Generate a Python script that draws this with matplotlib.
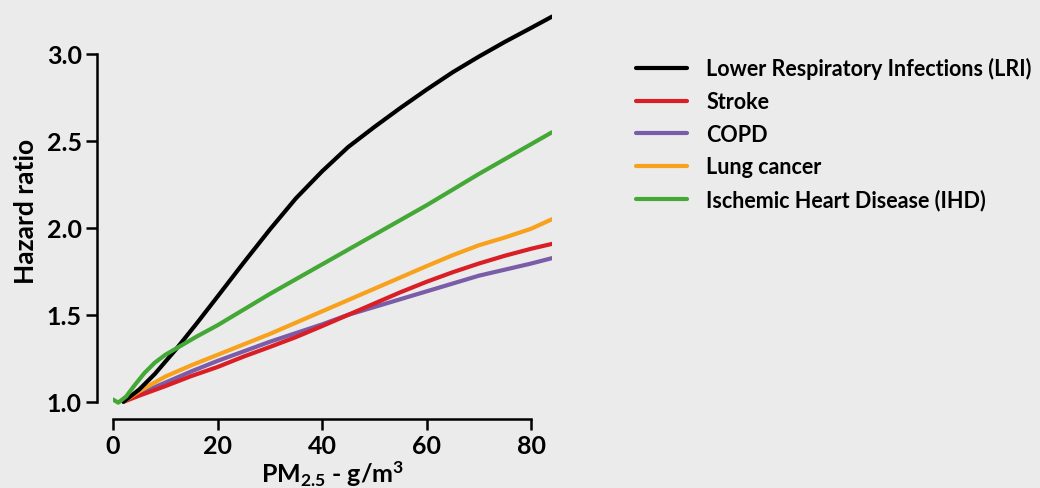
import matplotlib
matplotlib.use('Agg')
import matplotlib.pyplot as plt

# values (PM2.5 in g/m3 vs hazard ratio)
lri_x = [2, 5, 8, 12, 16, 20, 25, 30, 35, 40, 45, 50, 55, 60, 65, 70, 75, 80, 84]
lri_y = [1.0, 1.07, 1.16, 1.30, 1.45, 1.605, 1.80, 1.99, 2.17, 2.325, 2.465, 2.58,
         2.69, 2.795, 2.895, 2.985, 3.07, 3.15, 3.215]

ihd_x = [0, 1, 2.5, 4, 6, 8, 10, 12, 14, 16, 20, 30, 40, 50, 60, 70, 84]
ihd_y = [1.013, 0.995, 1.03, 1.09, 1.165, 1.225, 1.27, 1.305, 1.34, 1.375, 1.44, 1.62,
         1.79, 1.96, 2.13, 2.31, 2.55]

base_x = [2, 5, 10, 15, 20, 25, 30, 35, 40, 45, 50, 55, 60, 65, 70, 75, 80, 84]
lung_y = [1.0, 1.06, 1.145, 1.21, 1.27, 1.33, 1.39, 1.455, 1.52, 1.585, 1.65, 1.715,
          1.78, 1.843, 1.90, 1.945, 1.995, 2.05]
stroke_y = [1.0, 1.035, 1.09, 1.148, 1.20, 1.26, 1.315, 1.372, 1.435, 1.50, 1.565, 1.63,
            1.69, 1.745, 1.795, 1.84, 1.88, 1.908]
copd_y = [1.0, 1.045, 1.11, 1.175, 1.235, 1.29, 1.345, 1.395, 1.445, 1.50, 1.545, 1.59,
          1.635, 1.68, 1.725, 1.76, 1.795, 1.826]

labels = ['Lower Respiratory Infections (LRI)', 'Stroke', 'COPD', 'Lung cancer',
          'Ischemic Heart Disease (IHD)']
colors = ['#000000', '#d91e25', '#7a5ca8', '#f7a11c', '#43a835']

x_ticks = [0, 20, 40, 60, 80]
y_ticks = [1.0, 1.5, 2.0, 2.5, 3.0]

bg = '#ebebeb'
plt.rcParams['font.family'] = ['Lato', 'DejaVu Sans']
plt.rcParams['font.weight'] = 'bold'
plt.rcParams['mathtext.default'] = 'regular'

fig = plt.figure(figsize=(10.4, 4.89), dpi=100, facecolor=bg)
ax = fig.add_axes([113 / 1040, 81 / 489, 439 / 1040, 393 / 489], facecolor=bg)

series = [(lri_x, lri_y), (base_x, stroke_y), (base_x, copd_y), (base_x, lung_y), (ihd_x, ihd_y)]
# draw order: purple under red, like the reference
order = [2, 1, 3, 0, 4]
handles = [None] * 5
for i in order:
    xs, ys = series[i]
    line, = ax.plot(xs, ys, color=colors[i], lw=3, solid_capstyle='round',
                    solid_joinstyle='round', label=labels[i])
    handles[i] = line

ax.set_xlim(0, 84)
ax.set_ylim(0.97, 3.23)
ax.set_xticks(x_ticks)
ax.set_yticks(y_ticks)
ax.set_xticklabels([str(t) for t in x_ticks])
ax.set_yticklabels(['%.1f' % t for t in y_ticks])

for side in ['top', 'right']:
    ax.spines[side].set_visible(False)
ax.spines['left'].set_position(('outward', 11.5))
ax.spines['bottom'].set_position(('outward', 8.5))
ax.spines['left'].set_bounds(1.0, 3.0)
ax.spines['bottom'].set_bounds(0, 80)
for side in ['left', 'bottom']:
    ax.spines[side].set_linewidth(1.8)
ax.tick_params(axis='both', width=1.8, length=8, labelsize=18, pad=3)

ax.set_xlabel(r'PM$_{2.5}$ - g/m$^3$', fontsize=18, fontweight='bold', labelpad=1)
ax.set_ylabel('Hazard ratio', fontsize=19, fontweight='bold', labelpad=6)

fig.legend(handles=handles, labels=labels, loc='upper left',
           bbox_to_anchor=(617 / 1040, 1 - 39 / 489), frameon=False,
           fontsize=15.5, handlelength=2.37, handletextpad=0.88, labelspacing=0.54)

fig.savefig('out.png', dpi=100, facecolor=bg)
